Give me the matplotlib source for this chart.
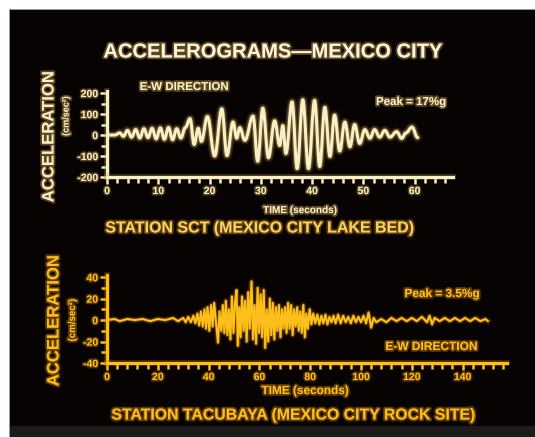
import matplotlib
matplotlib.use("Agg")
import matplotlib.pyplot as plt
import matplotlib.patheffects as pe
from matplotlib.patches import Rectangle, PathPatch
from matplotlib.path import Path
from matplotlib.ticker import MultipleLocator

# --- Station SCT (lake bed), E-W component: successive peaks and troughs ---
sct_time = [0, 1.5, 2.5, 3.2, 4.0, 4.8, 5.6, 6.4, 7.2, 8.0, 8.8, 9.6, 10.4, 11.2,
            12.0, 12.8, 13.6, 14.4, 15.3, 16.2, 17.0, 17.8, 18.4, 19.6, 21.0, 22.4,
            23.4, 24.6, 25.3, 25.9, 26.9, 28.5, 29.4, 30.4, 31.5, 32.7, 33.7, 34.3,
            34.9, 36.1, 37.1, 38.2, 39.3, 40.5, 41.5, 42.5, 43.5, 44.4, 45.4, 46.4,
            47.4, 48.3, 49.3, 50.3, 51.3, 52.2, 53.2, 54.2, 55.2, 56.5, 57.5, 58.3,
            59.5, 60.6]
sct_accel = [0, 0, 10, -6, 22, -10, 26, -14, 30, -12, 32, -18, 34, -20,
             36, -22, 30, -14, 36, 78, -45, 32, -30, 88, -100, 125,
             -98, 62, -15, 35, -25, 90, -125, 128, -108, 68, -50, 45,
             -88, 158, -160, 168, -160, 165, -150, 132, -102, 95, -76, 62,
             -56, 50, -40, 26, -15, 26, -10, 22, -10, 16, -16, 10,
             38, -12]

# --- Station Tacubaya (rock site), E-W component ---
tac_time = [0, 3, 5, 8, 11, 14, 17, 20, 23, 26, 28, 30, 31, 32, 33,
            34, 34.8, 35.6, 36.3, 37, 37.7, 38.4, 39, 39.6, 40.3, 41, 41.6, 42.2, 43,
            43.7, 44.3, 45, 45.6, 46.2, 46.8, 47.4, 48, 48.6, 49.2, 49.8, 50.4, 51,
            51.5, 52.1, 52.6, 53.2, 53.8, 54.4, 55, 55.6, 56.2, 56.9, 57.5, 58.1,
            58.7, 59.3, 59.9, 60.5, 61.1, 61.7, 62.3, 62.9, 63.5, 64.1, 64.7, 65.3,
            65.9, 66.5, 67.1, 67.7, 68.3, 68.9, 69.5, 70.1, 70.7, 71.3, 71.9, 72.5,
            73.1, 73.7, 74.3, 74.9, 75.5, 76.1, 76.7, 77.3, 77.9, 78.5, 79.1, 79.8,
            80.5, 81.2, 82, 82.8, 83.6, 84.4, 85.2, 86, 86.8, 87.6, 88.4, 89.2, 90,
            91, 92, 93, 94, 95, 96, 97, 98, 99, 100, 101, 102, 103, 104, 105, 106,
            108, 110, 112, 114, 116, 118, 120, 122, 124, 126, 127, 128, 129, 131,
            133, 135, 137, 139, 141, 143, 145, 147, 149, 150]
tac_accel = [0, 1, -1, 1, 0, 1, -1, 1, 0, 2, -1, 2, -2, 3, -2,
             4, -3, 6, -5, 8, -6, 10, -8, 12, -10, 14, -6, 16, -4,
             -21, 8, -10, 14, -12, 18, -14, 10, -18, 22, -12, 16, 28,
             -24, 12, -16, 22, -10, 18, -20, 26, -8, 36, -18, 14,
             -22, 30, -12, 24, -16, 28, -26, 10, -20, 20, -14, 16,
             -18, 12, -10, 14, -16, 10, -8, 12, -12, 16, -8, 14,
             -14, 10, -6, 12, -10, 8, -12, 14, -16, 6, -8, 10,
             -4, 6, -3, 5, -4, 4, -3, 5, -4, 3, -2, 4, -3,
             5, -3, 4, -2, 3, -3, 4, -2, 3, -2, 4, -3, 7, -7, 2, -2,
             1, -2, 2, -1, 2, -1, 2, -1, 3, -2, 4, -4, 2, -1,
             2, -1, 2, -1, 2, -1, 2, -1, 1, -1]

sct_xticks = [0, 10, 20, 30, 40, 50, 60]
sct_yticks = [-200, -100, 0, 100, 200]
tac_xticks = [0, 20, 40, 60, 80, 100, 120, 140]
tac_yticks = [-40, -20, 0, 20, 40]

W, H = 535, 437
CREAM = "#f7f0c6"
CREAM_GLOW = "#c89a48"
AMBER = "#ffbf1a"
AMBER_GLOW = "#d08000"
TITLE = "#fbf5dc"
STATION1 = "#f2d468"

plt.rcParams["font.family"] = ["Liberation Sans", "DejaVu Sans"]
plt.rcParams["font.weight"] = "bold"

fig = plt.figure(figsize=(W / 100, H / 100), dpi=100, facecolor="white")


def fx(px):
    return px / W


def fy(py):
    return 1 - py / H


def backdrop(x0, y0, x1, y1, color):
    fig.patches.append(Rectangle((fx(x0), fy(y1)), (x1 - x0) / W, (y1 - y0) / H,
                                 transform=fig.transFigure, facecolor=color,
                                 edgecolor="none", zorder=-5))


# screen background
backdrop(10, 426, 535, 437, "#1d1b19")
backdrop(10, 10, 535, 426, "#060302")
backdrop(9, 9, 10.3, 437, "#9a9a9a")
backdrop(9, 9, 535, 10.3, "#9a9a9a")


def glow(color, w=2.6, a=0.45):
    return [pe.withStroke(linewidth=w, foreground=color, alpha=a)]


def text(px, py, s, size, color, gcolor, rot=0, ha="center"):
    fig.text(fx(px), fy(py), s, fontsize=size, color=color, ha=ha, va="center",
             rotation=rot, fontweight="bold", path_effects=glow(gcolor))


def make_axes(left, right, top, bottom):
    ax = fig.add_axes([fx(left), fy(bottom), (right - left) / W, (bottom - top) / H])
    ax.set_zorder(2)
    return ax


def style(ax, color, gcolor, xmin, ymin, xticks, yticks, lsize):
    ax.set_facecolor("none")
    for side in ("top", "right"):
        ax.spines[side].set_visible(False)
    for side in ("left", "bottom"):
        ax.spines[side].set_color(color)
        ax.spines[side].set_linewidth(2.2)
        ax.spines[side].set_path_effects(glow(gcolor, 4, 0.35))
    ax.set_xticks(xticks)
    ax.set_yticks(yticks)
    ax.set_xticklabels([str(v) for v in xticks])
    ax.set_yticklabels([str(v) for v in yticks])
    ax.xaxis.set_minor_locator(MultipleLocator(xmin))
    ax.yaxis.set_minor_locator(MultipleLocator(ymin))
    ax.tick_params(which="both", direction="out", color=color, width=1.8,
                   labelcolor=color, labelsize=lsize, pad=1.5)
    ax.tick_params(which="major", length=5)
    ax.tick_params(which="minor", length=4)
    for lab in ax.get_xticklabels() + ax.get_yticklabels():
        lab.set_fontweight("bold")
        lab.set_path_effects(glow(gcolor, 2.2, 0.4))


def oscillation_path(t, a, k=0.38):
    """Cubic Bezier path through successive extrema with flat tangents at each one."""
    verts = [(t[0], a[0])]
    codes = [Path.MOVETO]
    for i in range(1, len(t)):
        dt = t[i] - t[i - 1]
        verts += [(t[i - 1] + k * dt, a[i - 1]), (t[i] - k * dt, a[i]), (t[i], a[i])]
        codes += [Path.CURVE4] * 3
    return Path(verts, codes)


def smooth_trace(ax, t, a, color, gcolor, lw):
    path = oscillation_path(t, a)
    for width, col, alpha in ((lw + 4, gcolor, 0.18), (lw + 1.8, gcolor, 0.4), (lw, color, 1.0)):
        ax.add_patch(PathPatch(path, fill=False, edgecolor=col, lw=width, alpha=alpha,
                               joinstyle="round", capstyle="round",
                               transform=ax.transData))


def spiky_trace(ax, t, a, color, gcolor, lw):
    ax.plot(t, a, color=gcolor, lw=lw + 2.6, alpha=0.18, solid_joinstyle="round")
    ax.plot(t, a, color=gcolor, lw=lw + 1.0, alpha=0.35, solid_joinstyle="round")
    ax.plot(t, a, color=color, lw=lw, solid_joinstyle="round", solid_capstyle="round")


# upper record
ax1 = make_axes(107, 453, 91, 177)
ax1.set_xlim(0, 67.5)
ax1.set_ylim(-200, 210)
style(ax1, CREAM, CREAM_GLOW, 2, 50, sct_xticks, sct_yticks, 7.5)
smooth_trace(ax1, sct_time, sct_accel, CREAM, CREAM_GLOW, 2.2)

# lower record
ax2 = make_axes(107, 507, 275, 363)
ax2.set_xlim(0, 157.5)
ax2.set_ylim(-40, 42)
style(ax2, AMBER, AMBER_GLOW, 4, 10, tac_xticks, tac_yticks, 7.5)
spiky_trace(ax2, tac_time, tac_accel, AMBER, AMBER_GLOW, 1.5)

# annotations
text(273, 52, "ACCELEROGRAMS\u2014MEXICO CITY", 14.5, TITLE, CREAM_GLOW)
text(184, 87, "E-W DIRECTION", 8.3, CREAM, CREAM_GLOW)
text(411, 102, "Peak = 17%g", 8.3, CREAM, CREAM_GLOW)
text(49, 137, "ACCELERATION", 12, CREAM, CREAM_GLOW, rot=90)
text(66, 116, "(cm/sec\u00b2)", 6.5, CREAM, CREAM_GLOW, rot=90)
text(300, 210, "TIME (seconds)", 7.2, CREAM, CREAM_GLOW)
text(260, 228, "STATION SCT (MEXICO CITY LAKE BED)", 11.5, STATION1, AMBER_GLOW)

text(442, 294, "Peak = 3.5%g", 8.5, AMBER, AMBER_GLOW)
text(431, 347, "E-W DIRECTION", 8.6, AMBER, AMBER_GLOW)
text(54, 321, "ACCELERATION", 12, AMBER, AMBER_GLOW, rot=90)
text(72, 320, "(cm/sec\u00b2)", 7, AMBER, AMBER_GLOW, rot=90)
text(305, 391, "TIME (seconds)", 8.5, AMBER, AMBER_GLOW)
text(293, 415, "STATION TACUBAYA (MEXICO CITY ROCK SITE)", 11.4, AMBER, AMBER_GLOW)

fig.savefig("out.png", dpi=100, facecolor=fig.get_facecolor())
